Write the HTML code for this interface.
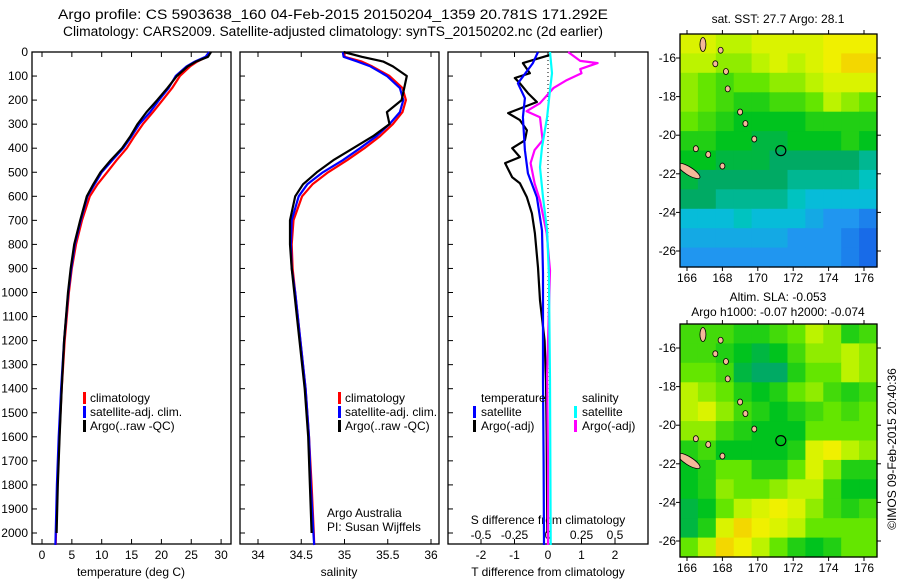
<!DOCTYPE html>
<html><head><meta charset="utf-8">
<style>
html,body{margin:0;padding:0;background:#fff;}
svg{display:block;font-family:"Liberation Sans",sans-serif;}
text{font-size:12px;fill:#000;}
</style></head>
<body>
<svg id="fig" width="900" height="580" viewBox="0 0 900 580" xmlns="http://www.w3.org/2000/svg">
<text x="58" y="19" textLength="550" lengthAdjust="spacingAndGlyphs" style="font-size:13.5px">Argo profile: CS 5903638_160 04-Feb-2015 20150204_1359 20.781S 171.292E</text>
<text x="63" y="36" textLength="540" lengthAdjust="spacingAndGlyphs" style="font-size:13.5px">Climatology: CARS2009. Satellite-adjusted climatology: synTS_20150202.nc (2d earlier)</text>
<g id="g"></g>
<text x="778" y="23" text-anchor="middle">sat. SST: 27.7 Argo: 28.1</text>
<text x="778" y="301" text-anchor="middle">Altim. SLA: -0.053</text>
<text x="778" y="316" text-anchor="middle">Argo h1000: -0.07 h2000: -0.074</text>
<text transform="translate(896,449) rotate(-90)" text-anchor="middle">©IMOS 09-Feb-2015 20:40:36</text>
</svg>
<script>
// ---- data ----
const depths = [0,20,40,60,100,150,200,250,300,350,400,450,500,550,600,700,800,900,1000,1200,1400,1600,1800,2000,2050];
const tempClim = [28,27.6,26,24.8,23.1,21.8,20.2,18.6,16.9,15.5,14.2,12.5,10.9,9.3,8.0,6.7,5.7,5.0,4.5,3.8,3.3,2.9,2.6,2.35,2.3];
const tempSat = [28,27.4,25.6,24.2,22.4,21.2,19.6,18.1,16.3,15.0,13.6,11.8,10.0,8.8,7.6,6.5,5.5,4.9,4.4,3.7,3.2,2.8,2.5,2.3,2.25];
const tempArgo = [28.3,27.8,25.8,24.4,22.6,21.0,19.3,17.5,16.0,14.8,13.4,11.5,9.8,8.6,7.5,6.4,5.4,4.8,4.35,3.7,3.3,2.95,2.65,2.45,null];
const salClim = [35.0,35.0,35.2,35.32,35.52,35.67,35.71,35.67,35.56,35.41,35.23,35.03,34.81,34.63,34.51,34.41,34.39,34.4,34.43,34.49,34.55,34.59,34.62,34.645,34.65];
const salSat = [34.98,34.99,35.15,35.3,35.49,35.64,35.68,35.64,35.52,35.37,35.18,34.98,34.75,34.57,34.47,34.39,34.38,34.39,34.43,34.49,34.55,34.59,34.61,34.64,34.65];
const salArgo = [34.99,35.2,35.45,35.56,35.72,35.69,35.66,35.49,35.52,35.33,35.1,34.87,34.68,34.52,34.43,34.37,34.37,34.39,34.42,34.48,34.54,34.58,34.6,34.62,null];
const dtArgoDepth = [12,46,88,108,130,171,208,254,283,325,367,400,437,462,521,546,604,671,754,896,1033,1200,1367,1600,1800,2000];
const dtArgo = [0.06,-0.75,-0.54,-0.99,-0.84,-0.6,-0.33,-1.19,-0.84,-0.63,-0.69,-1.07,-0.84,-1.28,-1.07,-0.84,-0.63,-0.48,-0.39,-0.3,-0.24,-0.1,-0.06,-0.04,-0.03,-0.02];
const dtSatDepth = [0,46,130,192,271,408,504,604,742,921,1367,1700,2050];
const dtSat = [-0.3,-0.45,-0.9,-0.69,-0.75,-0.69,-0.6,-0.33,-0.18,-0.15,-0.15,-0.13,-0.12];
const dsSatDepth = [0,88,158,271,396,479,604,742,925,1367,2050];
const dsSat = [0.015,0.03,0.015,-0.007,-0.045,-0.06,-0.037,-0.007,0.007,0.015,0.02];
const dsArgoDepth = [0,37,46,71,88,117,150,213,246,271,367,408,462,546,617,754,908,1340,1700,2050];
const dsArgo = [0.15,0.24,0.37,0.24,0.25,0.14,0.04,-0.06,-0.16,-0.06,-0.04,-0.1,-0.13,-0.1,-0.06,-0.01,0.015,-0.007,0.0,0.0];
const depthTicks = [0,100,200,300,400,500,600,700,800,900,1000,1100,1200,1300,1400,1500,1600,1700,1800,1900,2000];
const tempTicks = [0,5,10,15,20,25,30];
const salTicks = [34,34.5,35,35.5,36];
const tdTicks = [-2,-1,0,1,2];
const sdTicks = [-0.5,-0.25,0,0.25,0.5];
const lonTicks = [166,168,170,172,174,176];
const latTicks = [-16,-18,-20,-22,-24,-26];
const sstGrid = [
[0.85,0.85,0.8,0.8,0.85,0.85,0.85,0.85,0.9,0.9,0.9],
[0.8,0.8,0.75,0.75,0.8,0.85,0.8,0.85,0.9,0.95,0.95],
[0.75,0.7,0.65,0.7,0.7,0.75,0.75,0.8,0.85,0.85,0.85],
[0.75,0.7,0.65,0.6,0.6,0.65,0.65,0.7,0.8,0.75,0.7],
[0.7,0.65,0.6,0.55,0.55,0.55,0.55,0.6,0.6,0.6,0.6],
[0.6,0.6,0.55,0.55,0.5,0.5,0.55,0.55,0.55,0.6,0.55],
[0.55,0.55,0.5,0.5,0.5,0.45,0.45,0.45,0.45,0.45,0.4],
[0.5,0.45,0.45,0.45,0.45,0.45,0.4,0.4,0.4,0.4,0.35],
[0.45,0.45,0.4,0.4,0.4,0.4,0.35,0.3,0.3,0.3,0.3],
[0.3,0.3,0.3,0.35,0.3,0.3,0.3,0.25,0.2,0.2,0.15],
[0.25,0.25,0.25,0.25,0.25,0.25,0.2,0.2,0.2,0.15,0.1],
[0.2,0.2,0.2,0.2,0.2,0.2,0.2,0.2,0.2,0.15,0.1]];
const slaGrid = [
[0.65,0.65,0.65,0.6,0.6,0.65,0.7,0.8,0.75,0.6,0.65],
[0.65,0.65,0.6,0.55,0.5,0.55,0.65,0.75,0.75,0.8,0.75],
[0.7,0.7,0.65,0.5,0.45,0.45,0.6,0.7,0.7,0.8,0.75],
[0.8,0.75,0.7,0.6,0.55,0.6,0.7,0.75,0.65,0.6,0.65],
[0.8,0.85,0.75,0.65,0.6,0.55,0.6,0.65,0.7,0.65,0.7],
[0.75,0.75,0.65,0.6,0.55,0.55,0.55,0.7,0.7,0.7,0.7],
[0.6,0.65,0.55,0.55,0.55,0.55,0.6,0.85,0.9,0.8,0.75],
[0.55,0.6,0.7,0.7,0.6,0.6,0.7,0.85,0.75,0.6,0.6],
[0.55,0.6,0.75,0.7,0.7,0.75,0.8,0.8,0.65,0.55,0.55],
[0.5,0.55,0.7,0.8,0.85,0.9,0.85,0.75,0.65,0.6,0.65],
[0.5,0.6,0.85,0.95,0.9,0.85,0.8,0.7,0.7,0.7,0.7],
[0.7,0.8,0.95,0.9,0.8,0.7,0.6,0.55,0.6,0.7,0.7]];
const islandLon = [166.9,167.9,167.6,168.2,168.3,169.0,169.3,169.8,166.5,167.2,168.0,166.1];
const islandLat = [-15.3,-15.6,-16.3,-16.7,-17.6,-18.8,-19.4,-20.2,-20.7,-21.0,-21.6,-21.85];
const argoLon = 171.3, argoLat = -20.8;

// ---- helpers ----
const NS = "http://www.w3.org/2000/svg";
const G = document.getElementById('g');
function mk(tag, attrs, parent) {
  const e = document.createElementNS(NS, tag);
  for (const k in attrs) e.setAttribute(k, attrs[k]);
  (parent || G).appendChild(e);
  return e;
}
const yD = d => 52 + d * 0.2405;
const xT = t => 42 + t * 5.97;
const xS = s => 258 + (s - 34) * 86.5;
const xTd = t => 548 + t * 33.5;
const xSd = s => 548 + s * 134;

function panel(name, x0, x1) {
  const r = mk('rect', {x:x0, y:52, width:x1-x0, height:492, fill:'none', stroke:'#000', 'stroke-width':1.3});
  
  
}
function line(name, xs, ds, color, sx, sy) {
  let p = '';
  for (let i = 0; i < xs.length; i++) {
    if (xs[i] === null) continue;
    p += (p ? 'L' : 'M') + sx(xs[i]).toFixed(1) + ',' + sy(ds[i]).toFixed(1);
  }
  const e = mk('path', {d:p, fill:'none', stroke:color, 'stroke-width':2.2, 'stroke-linejoin':'round'});
  
  
}
function txt(name, x, y, s, anchor) {
  const e = mk('text', {x:x, y:y, 'text-anchor':anchor || 'start'});
  e.textContent = s;
  
  
  return e;
}
function legendBar(name, x, y, color) {
  const e = mk('rect', {x:x, y:y-10, width:3, height:12, fill:color});
  
  
}

// ---- panels ----
panel('temperature-panel', 32, 231);
panel('salinity-panel', 240, 439);
panel('difference-panel', 448, 648);

depthTicks.forEach(d => {
  txt('depth-tick-label', 28, yD(d) + 4, String(d), 'end');
  [32, 240, 448].forEach(x0 => mk('line', {x1:x0, x2:x0+5, y1:yD(d), y2:yD(d), stroke:'#000'}));
});
tempTicks.forEach(t => {
  txt('temp-tick-label', xT(t), 559, String(t), 'middle');
  mk('line', {x1:xT(t), x2:xT(t), y1:52, y2:57, stroke:'#000'});
  mk('line', {x1:xT(t), x2:xT(t), y1:544, y2:539, stroke:'#000'});
});
salTicks.forEach(s => {
  txt('salinity-tick-label', xS(s), 559, String(s), 'middle');
  mk('line', {x1:xS(s), x2:xS(s), y1:52, y2:57, stroke:'#000'});
  mk('line', {x1:xS(s), x2:xS(s), y1:544, y2:539, stroke:'#000'});
});
tdTicks.forEach(t => {
  txt('tdiff-tick-label', xTd(t), 559, String(t), 'middle');
  mk('line', {x1:xTd(t), x2:xTd(t), y1:52, y2:57, stroke:'#000'});
  mk('line', {x1:xTd(t), x2:xTd(t), y1:544, y2:539, stroke:'#000'});
});
sdTicks.forEach(s => txt('sdiff-tick-label', xSd(s), 539, String(s), 'middle'));
txt('temp-axis-title', 131, 576, 'temperature (deg C)', 'middle');
txt('salinity-axis-title', 339, 576, 'salinity', 'middle');
txt('tdiff-axis-title', 548, 576, 'T difference from climatology', 'middle');
txt('sdiff-axis-title', 548, 524, 'S difference from climatology', 'middle');

const z = mk('line', {x1:548, x2:548, y1:52, y2:544, stroke:'#000', 'stroke-dasharray':'1,3'});



line('temp-climatology-line', tempClim, depths, '#ff0000', xT, yD);
line('temp-satellite-line', tempSat, depths, '#0000ff', xT, yD);
line('temp-argo-line', tempArgo, depths, '#000000', xT, yD);
line('sal-climatology-line', salClim, depths, '#ff0000', xS, yD);
line('sal-satellite-line', salSat, depths, '#0000ff', xS, yD);
line('sal-argo-line', salArgo, depths, '#000000', xS, yD);
line('tdiff-argo-line', dtArgo, dtArgoDepth, '#000000', xTd, yD);
line('tdiff-satellite-line', dtSat, dtSatDepth, '#0000ff', xTd, yD);
line('sdiff-argo-line', dsArgo, dsArgoDepth, '#ff00ff', xSd, yD);
line('sdiff-satellite-line', dsSat, dsSatDepth, '#00ffff', xSd, yD);

[[83,'temp'],[338,'sal']].forEach(([lx,p]) => {
  legendBar(p+'-legend-climatology', lx, 402, '#ff0000'); txt(p+'-legend-climatology-label', lx+7, 402, 'climatology');
  legendBar(p+'-legend-satellite', lx, 416, '#0000ff'); txt(p+'-legend-satellite-label', lx+7, 416, 'satellite-adj. clim.');
  legendBar(p+'-legend-argo', lx, 430, '#000000'); txt(p+'-legend-argo-label', lx+7, 430, 'Argo(..raw -QC)');
});
txt('legend-temperature-heading', 481, 402, 'temperature');
legendBar('legend-tdiff-satellite', 473, 416, '#0000ff'); txt('legend-tdiff-satellite-label', 481, 416, 'satellite');
legendBar('legend-tdiff-argo', 473, 430, '#000000'); txt('legend-tdiff-argo-label', 481, 430, 'Argo(-adj)');
txt('legend-salinity-heading', 582, 402, 'salinity');
legendBar('legend-sdiff-satellite', 574, 416, '#00ffff'); txt('legend-sdiff-satellite-label', 582, 416, 'satellite');
legendBar('legend-sdiff-argo', 574, 430, '#ff00ff'); txt('legend-sdiff-argo-label', 582, 430, 'Argo(-adj)');
txt('credit-line-1', 327, 517, 'Argo Australia');
txt('credit-line-2', 327, 531, 'PI: Susan Wijffels');

// ---- maps ----
const stops = [[0,[16,64,224]],[0.2,[32,150,240]],[0.33,[0,200,210]],[0.45,[0,170,100]],[0.55,[0,195,30]],[0.7,[100,230,0]],[0.82,[205,245,0]],[0.9,[240,240,0]],[1,[245,190,0]]];
function cmap(v) {
  for (let i = 1; i < stops.length; i++) {
    if (v <= stops[i][0]) {
      const a = stops[i-1], b = stops[i], f = (v - a[0]) / (b[0] - a[0]);
      const c = a[1].map((q, k) => Math.round(q + (b[1][k] - q) * f));
      return 'rgb(' + c.join(',') + ')';
    }
  }
  return 'rgb(245,190,0)';
}
function drawMap(name, grid, top) {
  const x0 = 680, x1 = 877, y1 = top + 233;
  const xL = lon => 687 + (lon - 166) * 17.7;
  const yL = lat => top + 24 + (-16 - lat) * 19.3;
  const cw = (x1 - x0) / grid[0].length, ch = (y1 - top) / grid.length;
  grid.forEach((row, r) => row.forEach((v, c) => {
    const e = mk('rect', {x:(x0 + c*cw).toFixed(1), y:(top + r*ch).toFixed(1), width:(cw+0.6).toFixed(1), height:(ch+0.6).toFixed(1), fill:cmap(v)});
    
    
  }));
  const clip = mk('clipPath', {id: name + '-clip'});
  mk('rect', {x:x0, y:top, width:x1-x0, height:y1-top}, clip);
  const ig = mk('g', {'clip-path':'url(#' + name + '-clip)'});
  islandLon.forEach((lon, i) => {
    const big = i === islandLon.length - 1;
    const cx = xL(lon), cy = yL(islandLat[i]);
    const e = mk('ellipse', {cx:cx, cy:cy, rx: big ? 13 : (i === 0 ? 3 : 2.5), ry: big ? 4 : (i === 0 ? 7 : 3), fill:'#f5b89a', stroke:'#000', 'stroke-width':0.8, transform: big ? 'rotate(32 ' + cx + ' ' + cy + ')' : ''}, ig);
    
    
  });
  const c = mk('circle', {cx:xL(argoLon), cy:yL(argoLat), r:5, fill:'none', stroke:'#000', 'stroke-width':1.2});
  
  
  const f = mk('rect', {x:x0, y:top, width:x1-x0, height:y1-top, fill:'none', stroke:'#000', 'stroke-width':1.3});
  
  
  lonTicks.forEach(l => {
    txt(name + '-lon-label', xL(l), y1 + 15, String(l), 'middle');
    mk('line', {x1:xL(l), x2:xL(l), y1:top, y2:top-4, stroke:'#000'});
    mk('line', {x1:xL(l), x2:xL(l), y1:y1, y2:y1+4, stroke:'#000'});
  });
  latTicks.forEach(l => {
    txt(name + '-lat-label', 676, yL(l) + 4, String(l), 'end');
    mk('line', {x1:x0, x2:x0-4, y1:yL(l), y2:yL(l), stroke:'#000'});
    mk('line', {x1:x1, x2:x1+4, y1:yL(l), y2:yL(l), stroke:'#000'});
  });
}
drawMap('sst-map', sstGrid, 34);
drawMap('sla-map', slaGrid, 324);
</script>
</body></html>
